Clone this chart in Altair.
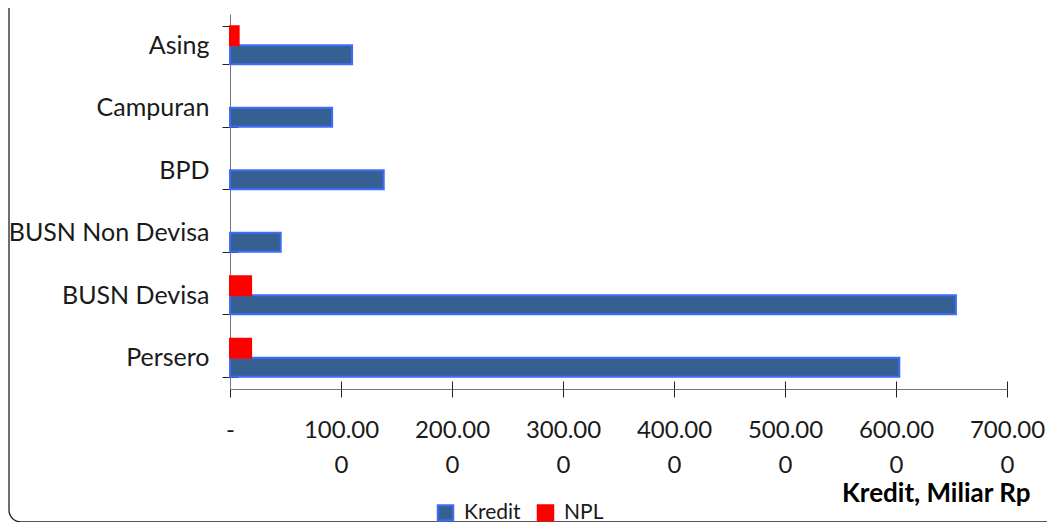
import altair as alt
import pandas as pd

categories = ["Asing", "Campuran", "BPD", "BUSN Non Devisa", "BUSN Devisa", "Persero"]
kredit = [110000, 92000, 138500, 45700, 654000, 603000]
npl = [7800, 0, 0, 0, 19000, 19000]
series = ["Kredit", "NPL"]
fill_colors = ["#376092", "#FF0000"]
stroke_colors = ["#3F6CFF", "#FF0000"]
tick_values = [0, 100000, 200000, 300000, 400000, 500000, 600000, 700000]
tick_labels = [["-"], ["100.00", "0"], ["200.00", "0"], ["300.00", "0"],
               ["400.00", "0"], ["500.00", "0"], ["600.00", "0"], ["700.00", "0"]]

rows = []
for c, k, n in zip(categories, kredit, npl):
    rows.append({"Kelompok": c, "Seri": "Kredit", "Nilai": k})
    rows.append({"Kelompok": c, "Seri": "NPL", "Nilai": n})
df = pd.DataFrame(rows)

W, H = 777, 375
FONT = "Lato"

label_js = "[" + ",".join("[" + ",".join("'" + s + "'" for s in lab) + "]" for lab in tick_labels) + "]"
label_expr = label_js + "[round(datum.value / 100000)]"

x_scale = alt.Scale(domain=[0, 700000], nice=False, zero=True)
y_scale = alt.Scale(paddingInner=0.39, paddingOuter=0.195)

legend = alt.Legend(
    title=None, orient="none", legendX=205, legendY=488, direction="horizontal",
    symbolType="square", symbolSize=240, symbolStrokeWidth=2,
    labelFont=FONT, labelFontSize=21, labelColor="#1a1a1a", labelOffset=8,
    columnPadding=12, padding=0,
)

base = alt.Chart(df).transform_filter("datum.Nilai > 0")

bars = base.mark_bar(strokeWidth=2).encode(
    x=alt.X(
        "Nilai:Q", scale=x_scale,
        axis=alt.Axis(
            orient="bottom", values=tick_values, labelExpr=label_expr, grid=False,
            title="Kredit, Miliar Rp", titleFont=FONT, titleFontWeight="bold",
            titleFontSize=26, titleColor="#000", titleAnchor="end", titleAlign="right",
            titleX=800, titleY=112, titleBaseline="alphabetic",
            labelFont=FONT, labelFontSize=24, labelColor="#1a1a1a",
            labelPadding=21, labelLineHeight=35, labelBaseline="top",
            tickSize=8, tickColor="#222", domainColor="#777", labelFlush=False,
            labelOverlap=False,
        ),
    ),
    y=alt.Y(
        "Kelompok:N", sort=categories, scale=y_scale,
        axis=alt.Axis(
            orient="left", title=None, tickBand="extent", labelFont=FONT, labelFontSize=25,
            labelColor="#1a1a1a", labelPadding=13, tickSize=8, tickColor="#222",
            domainColor="#777", labelLimit=400,
        ),
    ),
    yOffset=alt.YOffset("Seri:N", sort=["NPL", "Kredit"]),
    fill=alt.Fill("Seri:N", scale=alt.Scale(domain=series, range=fill_colors), legend=legend),
    stroke=alt.Stroke("Seri:N", scale=alt.Scale(domain=series, range=stroke_colors), legend=legend),
)

# inner halves of the crossing tick marks
inner_ticks = base.mark_bar(opacity=0).encode(
    x=alt.X(
        "Nilai:Q", scale=x_scale,
        axis=alt.Axis(orient="bottom", values=tick_values, labels=False, title=None,
                      domain=False, grid=False, tickSize=8, tickColor="#222", offset=-8),
    ),
    y=alt.Y(
        "Kelompok:N", sort=categories, scale=y_scale,
        axis=alt.Axis(orient="left", labels=False, title=None, domain=False,
                      tickBand="extent", tickSize=8, tickColor="#222", offset=-8),
    ),
)

border = alt.Chart(alt.Data(values=[{}])).mark_rect(
    cornerRadius=12, fillOpacity=0, stroke="#222", strokeWidth=1.3
).encode(
    x=alt.value(-221), x2=alt.value(900), y=alt.value(-40), y2=alt.value(508)
)

chart = alt.layer(border, bars, inner_ticks).resolve_axis(
    x="independent", y="independent"
).properties(
    width=W, height=H, background="white",
    padding={"left": 222, "top": 6, "right": 40, "bottom": 133},
    autosize=alt.AutoSizeParams(type="none"),
).configure_view(stroke=None)

chart.save("out.html", embed_options={"renderer": "svg", "actions": False})
